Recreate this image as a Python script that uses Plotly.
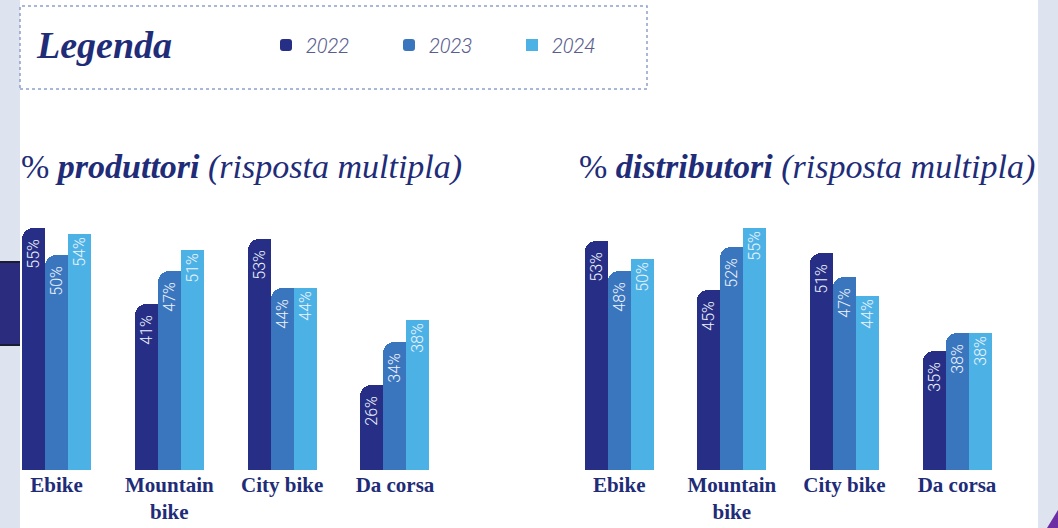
import plotly.graph_objects as go

# ---------------- data ----------------
categories = ["Ebike", "Mountain<br>bike", "City bike", "Da corsa"]
years = ["2022", "2023", "2024"]
produttori_2022 = [55, 41, 53, 26]
produttori_2023 = [50, 47, 44, 34]
produttori_2024 = [54, 51, 44, 38]
distributori_2022 = [53, 45, 51, 35]
distributori_2023 = [48, 52, 47, 38]
distributori_2024 = [50, 55, 44, 38]

# ---------------- style ----------------
W, H = 1058, 528
COLORS = {"2022": "#262f85", "2023": "#3a76bd", "2024": "#4cb2e5"}
NAVY = "#212c78"
BG = "#dde3ef"
BAR_W = 0.204
OFFS = {"2022": -BAR_W, "2023": 0.0, "2024": BAR_W}
LABEL_FONT = dict(family="Roboto", size=16, color="#eef3ff", weight=300)


def px_x(p):
    return p / W


def px_y(p):
    return 1 - p / H


fig = go.Figure()

series = {
    ("x", "y"): {"2022": produttori_2022, "2023": produttori_2023, "2024": produttori_2024},
    ("x2", "y2"): {"2022": distributori_2022, "2023": distributori_2023, "2024": distributori_2024},
}

for (xa, ya), data in series.items():
    first = xa == "x"
    for yr in years:
        vals = data[yr]
        xs = [i + OFFS[yr] for i in range(len(categories))]
        rounded = yr in ("2022", "2023")
        if rounded:
            # square right half underneath, so only the top-left corner is rounded
            fig.add_trace(go.Bar(
                x=[x + BAR_W / 4 for x in xs], y=vals, width=BAR_W / 2,
                marker=dict(color=COLORS[yr], line=dict(width=0)),
                xaxis=xa, yaxis=ya, showlegend=False, hoverinfo="skip",
            ))
        fig.add_trace(go.Bar(
            x=xs, y=vals, width=BAR_W, name=yr,
            marker=dict(color=COLORS[yr], line=dict(width=0),
                        cornerradius="50%" if rounded else 0),
            text=[f"{v}%" for v in vals], textposition="inside",
            insidetextanchor="end", textangle=-90, textfont=LABEL_FONT,
            xaxis=xa, yaxis=ya, showlegend=first, legendgroup=yr,
            hovertemplate="%{y}%<extra>" + yr + "</extra>",
        ))

axis_x_common = dict(
    range=[-0.5, 3.5], showgrid=False, zeroline=False, showline=False,
    tickmode="array", tickvals=list(range(len(categories))), ticktext=categories,
    ticks="",
    tickfont=dict(family="Liberation Serif", size=21, color=NAVY, weight="bold"),
    fixedrange=True, automargin=False,
)
axis_y_common = dict(showgrid=False, zeroline=False, showline=False,
                     showticklabels=False, ticks="", fixedrange=True, automargin=False)

ydom = [px_y(470), px_y(200)]

shapes = [
    # white page panel
    dict(type="rect", xref="paper", yref="paper", x0=px_x(20), x1=px_x(1038), y0=0, y1=1,
         fillcolor="white", line=dict(width=0), layer="below"),
    # navy tab on the left edge
    dict(type="rect", xref="paper", yref="paper", x0=0, x1=px_x(20), y0=px_y(345), y1=px_y(262),
         fillcolor="#2c2c7e", line=dict(width=0), layer="below"),
    dict(type="line", xref="paper", yref="paper", x0=0, x1=px_x(20), y0=px_y(262), y1=px_y(262),
         line=dict(color="#1b1b33", width=2)),
    dict(type="line", xref="paper", yref="paper", x0=0, x1=px_x(20), y0=px_y(345), y1=px_y(345),
         line=dict(color="#1b1b33", width=2)),
    # purple corner
    dict(type="path", xref="paper", yref="paper",
         path=f"M {px_x(1047)},{px_y(528)} L {px_x(1058)},{px_y(510)} L {px_x(1058)},{px_y(528)} Z",
         fillcolor="#6b2fa3", line=dict(width=0)),
    # dotted legend frame
    dict(type="rect", xref="paper", yref="paper", x0=px_x(20), x1=px_x(647), y0=px_y(89), y1=px_y(6),
         line=dict(color="#8ea0cc", width=1.5, dash="dot"), fillcolor="rgba(0,0,0,0)"),
]

annotations = [
    dict(text="<b><i>Legenda</i></b>", xref="paper", yref="paper", x=px_x(34), y=px_y(45),
         xanchor="left", yanchor="middle", showarrow=False,
         font=dict(family="Liberation Serif", size=38, color=NAVY)),
    dict(text="% <b><i>produttori</i></b> <i>(risposta multipla)</i>", xref="paper", yref="paper",
         x=px_x(19), y=px_y(167), xanchor="left", yanchor="middle", showarrow=False,
         font=dict(family="Liberation Serif", size=34, color=NAVY)),
    dict(text="% <b><i>distributori</i></b> <i>(risposta multipla)</i>", xref="paper", yref="paper",
         x=px_x(577), y=px_y(167), xanchor="left", yanchor="middle", showarrow=False,
         font=dict(family="Liberation Serif", size=34, color=NAVY)),
]

fig.update_layout(
    width=W, height=H,
    margin=dict(l=0, r=0, t=0, b=0, pad=0, autoexpand=False),
    paper_bgcolor=BG, plot_bgcolor="rgba(0,0,0,0)",
    barmode="overlay", bargap=0,
    xaxis=dict(domain=[px_x(0.1), px_x(451.4)], anchor="y", **axis_x_common),
    yaxis=dict(domain=ydom, range=[10.3, 60.2], anchor="x", **axis_y_common),
    xaxis2=dict(domain=[px_x(562.9), px_x(1013.3)], anchor="y2", **axis_x_common),
    yaxis2=dict(domain=ydom, range=[15.6, 59.6], anchor="x2", **axis_y_common),
    showlegend=True,
    legend=dict(orientation="h", x=px_x(266), xanchor="left", y=px_y(45), yanchor="middle",
                bgcolor="rgba(0,0,0,0)", borderwidth=0,
                entrywidth=78, entrywidthmode="pixels", traceorder="normal",
                font=dict(family="Roboto", size=20, color="#5a5e8e", style="italic", weight=300)),
    shapes=shapes, annotations=annotations,
    uniformtext=dict(mode="show", minsize=16),
)

fig.write_html(
    "out.html",
    config={"displayModeBar": False},
    post_script=(
        "var gd=document.getElementById('{plot_id}');"
        "gd.style.position='absolute';gd.style.top='0';gd.style.left='0';"
        "document.body.style.margin='0';"
        "document.documentElement.style.overflow='hidden';"
        "document.body.style.overflow='hidden';"
    ),
)
